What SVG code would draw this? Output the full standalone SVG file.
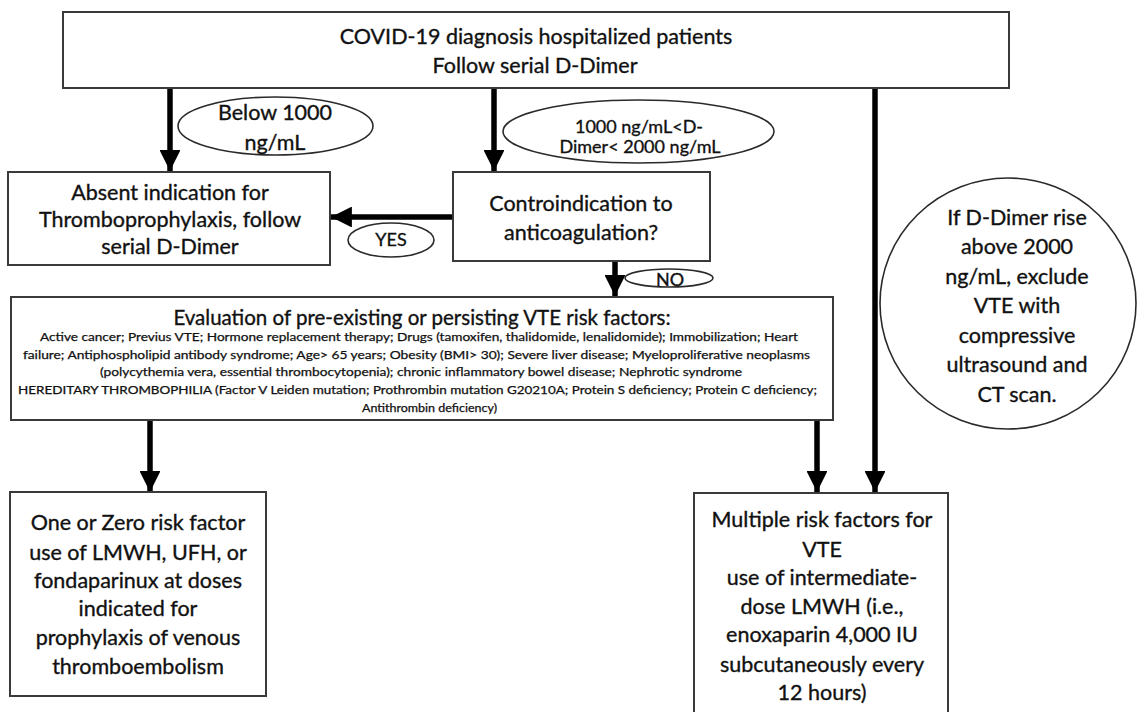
<svg xmlns="http://www.w3.org/2000/svg" width="1144" height="712" viewBox="0 0 1144 712">
<defs>
<style>
.box{fill:#fff;stroke:#3a3a3a;stroke-width:2}
.ell{fill:#fff;stroke:#2a2a2a;stroke-width:1.6}
.t{font-family:Lato,"Liberation Sans",sans-serif;fill:#111;text-anchor:middle;stroke:#111;stroke-width:0.35}
.m{font-size:21.5px}
.s{font-size:18px}
.x{font-size:11px;stroke-width:0.25}
.e{font-size:20.5px}
.conn line{stroke:#000;stroke-width:5.5}
</style>
<marker id="ah" viewBox="0 0 10 10" refX="10" refY="5" markerWidth="3.8" markerHeight="3.8" orient="auto" markerUnits="strokeWidth">
<path d="M0,0 L10,5 L0,10 z" fill="#000"/>
</marker>
</defs>
<rect width="1144" height="712" fill="#fff"/>

<g id="connectors" class="conn">
<line x1="170" y1="88" x2="170" y2="171" marker-end="url(#ah)"/>
<line x1="494" y1="88" x2="494" y2="171" marker-end="url(#ah)"/>
<line x1="453" y1="217" x2="331" y2="217" marker-end="url(#ah)"/>
<line x1="615" y1="261" x2="615" y2="296" marker-end="url(#ah)"/>
<line x1="150" y1="420" x2="150" y2="492" marker-end="url(#ah)"/>
<line x1="817" y1="420" x2="817" y2="492" marker-end="url(#ah)"/>
<line x1="875" y1="88" x2="875" y2="492" marker-end="url(#ah)"/>
</g>

<g id="start">
<rect class="box" x="63" y="12" width="946" height="76"/>
<text class="t m" x="536" y="44">COVID-19 diagnosis hospitalized patients</text>
<text class="t m" x="535" y="73">Follow serial D-Dimer</text>
</g>

<g id="label-below">
<ellipse class="ell" cx="275.5" cy="126" rx="97.5" ry="29"/>
<text class="t m" x="275" y="120">Below 1000</text>
<text class="t m" x="275" y="150">ng/mL</text>
</g>

<g id="label-between">
<ellipse class="ell" cx="638.5" cy="131.5" rx="135.5" ry="31.5"/>
<text class="t s" x="639" y="133">1000 ng/mL&lt;D-</text>
<text class="t s" x="640" y="153">Dimer&lt; 2000 ng/mL</text>
</g>

<g id="absent">
<rect class="box" x="8" y="172" width="322" height="93"/>
<text class="t m" x="170" y="200">Absent indication for</text>
<text class="t m" x="170" y="227">Thromboprophylaxis, follow</text>
<text class="t m" x="170" y="254">serial D-Dimer</text>
</g>

<g id="contra">
<rect class="box" x="453" y="172" width="257" height="89"/>
<text class="t m" x="581" y="211">Controindication to</text>
<text class="t m" x="581" y="240">anticoagulation?</text>
</g>

<g id="label-yes">
<ellipse class="ell" cx="391" cy="240" rx="43" ry="17"/>
<text class="t s" x="391" y="246">YES</text>
</g>

<g id="label-no">
<ellipse class="ell" cx="669" cy="278" rx="44" ry="9"/>
<text class="t s" x="670" y="286">NO</text>
</g>

<g id="evaluation">
<rect class="box" x="11" y="297" width="822" height="123"/>
<text class="t e" x="422" y="325">Evaluation of pre-existing or persisting VTE risk factors:</text>
<text class="t x" x="419" y="341" textLength="758" lengthAdjust="spacingAndGlyphs">Active cancer; Previus VTE; Hormone replacement therapy; Drugs (tamoxifen, thalidomide, lenalidomide); Immobilization; Heart</text>
<text class="t x" x="416.5" y="359" textLength="787" lengthAdjust="spacingAndGlyphs">failure; Antiphospholipid antibody syndrome; Age&gt; 65 years; Obesity (BMI&gt; 30); Severe liver disease; Myeloproliferative neoplasms</text>
<text class="t x" x="421" y="376" textLength="642" lengthAdjust="spacingAndGlyphs">(polycythemia vera, essential thrombocytopenia); chronic inflammatory bowel disease; Nephrotic syndrome</text>
<text class="t x" x="417.5" y="394" textLength="799" lengthAdjust="spacingAndGlyphs">HEREDITARY THROMBOPHILIA (Factor V Leiden mutation; Prothrombin mutation G20210A; Protein S deficiency; Protein C deficiency;</text>
<text class="t x" x="429.5" y="412" textLength="135" lengthAdjust="spacingAndGlyphs">Antithrombin deficiency)</text>
</g>

<g id="dimer-rise">
<ellipse class="ell" cx="1008" cy="303.5" rx="128" ry="125.5"/>
<text class="t m" x="1017" y="225">If D-Dimer rise</text>
<text class="t m" x="1017" y="254">above 2000</text>
<text class="t m" x="1017" y="284">ng/mL, exclude</text>
<text class="t m" x="1017" y="313">VTE with</text>
<text class="t m" x="1017" y="343">compressive</text>
<text class="t m" x="1017" y="372">ultrasound and</text>
<text class="t m" x="1017" y="402">CT scan.</text>
</g>

<g id="low-risk">
<rect class="box" x="10" y="492" width="256" height="204"/>
<text class="t m" x="138" y="530">One or Zero risk factor</text>
<text class="t m" x="138" y="560">use of LMWH, UFH, or</text>
<text class="t m" x="138" y="588">fondaparinux at doses</text>
<text class="t m" x="138" y="616">indicated for</text>
<text class="t m" x="138" y="645">prophylaxis of venous</text>
<text class="t m" x="138" y="674">thromboembolism</text>
</g>

<g id="high-risk">
<rect class="box" x="694" y="493" width="254" height="225"/>
<text class="t m" x="822" y="527">Multiple risk factors for</text>
<text class="t m" x="822" y="557">VTE</text>
<text class="t m" x="822" y="585">use of intermediate-</text>
<text class="t m" x="822" y="614">dose LMWH (i.e.,</text>
<text class="t m" x="822" y="642">enoxaparin 4,000 IU</text>
<text class="t m" x="822" y="672">subcutaneously every</text>
<text class="t m" x="822" y="700">12 hours)</text>
</g>
</svg>
